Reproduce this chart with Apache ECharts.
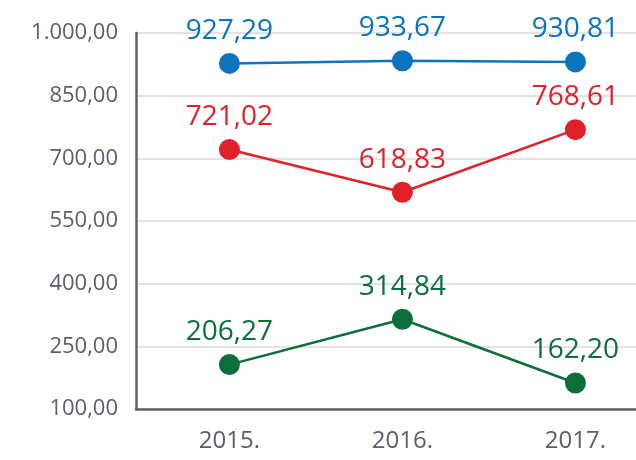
<!DOCTYPE html>
<html>
<head>
<meta charset="utf-8">
<script src="https://cdn.jsdelivr.net/npm/echarts@6/dist/echarts.min.js"></script>
<style>
html, body { margin: 0; padding: 0; background: #fff; }
#main { width: 636px; height: 460px; }
</style>
</head>
<body>
<div id="main"></div>
<script>
var years = [2015, 2016, 2017];
var blue = [927.29, 933.67, 930.81];
var red = [721.02, 618.83, 768.61];
var green = [206.27, 314.84, 162.20];

var main = echarts.init(document.getElementById('main'));

// 1.000,00 style
function fmt(v) {
	var s = Number(v).toFixed(2).split('.');
	var int = s[0].replace(/\B(?=(\d{3})+(?!\d))/g, '.');
	return int + ',' + s[1];
}

function pairs(vals) {
	var out = [];
	for (var i = 0; i < years.length; i++) {
		out.push([years[i], vals[i]]);
	}
	return out;
}

function line(name, color, vals) {
	return {
		name: name,
		type: 'line',
		data: pairs(vals),
		symbol: 'circle',
		symbolSize: 21,
		lineStyle: { color: color, width: 2.5 },
		itemStyle: { color: color },
		label: {
			show: true,
			position: 'top',
			distance: 8,
			color: color,
			fontSize: 28,
			fontFamily: 'Open Sans',
			formatter: function (p) { return fmt(p.value[1]); }
		}
	};
}

var option = {
	animation: false,
	grid: { left: 136, right: 0, top: 33, bottom: 51 },
	xAxis: {
		type: 'value',
		min: 2014.46,
		max: 2017.35,
		splitLine: { show: false },
		axisTick: { show: false },
		axisLine: { show: true, lineStyle: { color: '#5f6461', width: 2.5 } },
		axisLabel: {
			customValues: years,
			formatter: function (v) { return v + '.'; },
			color: '#5c5d6e',
			fontSize: 24,
			fontFamily: 'Open Sans',
			margin: 20
		}
	},
	yAxis: {
		type: 'value',
		min: 100,
		max: 1000,
		interval: 150,
		axisTick: { show: false },
		axisLine: { show: true, lineStyle: { color: '#5f6461', width: 2.5 } },
		splitLine: { lineStyle: { color: '#e3e3e3', width: 2 } },
		axisLabel: {
			formatter: fmt,
			color: '#5c5d6e',
			fontSize: 22,
			fontFamily: 'Open Sans',
			margin: 18
		}
	},
	series: [
		line('blue', '#0a74be', blue),
		line('red', '#e2202a', red),
		line('green', '#0b6e3b', green)
	]
};
main.setOption(option);
</script>
</body>
</html>
